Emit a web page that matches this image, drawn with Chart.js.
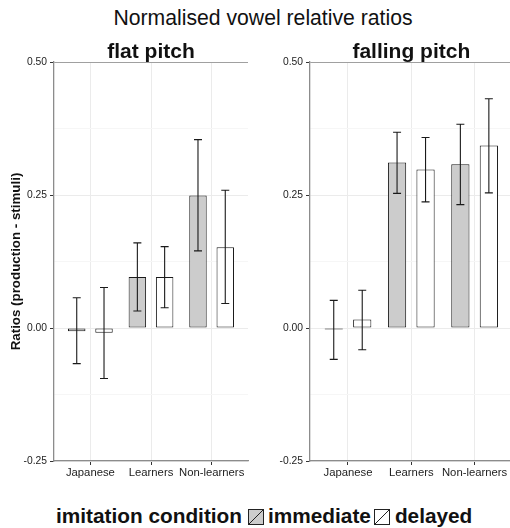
<!DOCTYPE html>
<html>
<head>
<meta charset="utf-8">
<script src="https://cdn.jsdelivr.net/npm/chart.js@4/dist/chart.umd.min.js"></script>
<style>
html,body{margin:0;padding:0;width:510px;height:528px;overflow:hidden;background:#fff;font-family:"Liberation Sans",Arial,sans-serif;}
#mainTitle{position:absolute;left:0;top:7px;width:526px;text-align:center;font-size:21.2px;line-height:21px;color:#111;white-space:nowrap;}
#c1{position:absolute;left:0;top:30px;}
#c2{position:absolute;left:255px;top:30px;}
#legend{position:absolute;left:56px;top:503.6px;display:flex;align-items:flex-start;font-weight:bold;font-size:20.8px;line-height:24px;color:#111;white-space:nowrap;}
#legend .sw{margin-top:5.4px;width:16px;height:16px;display:block;}
</style>
</head>
<body>
<div id="mainTitle"></div>
<canvas id="c1" width="255" height="455"></canvas>
<canvas id="c2" width="260" height="455"></canvas>
<div id="legend"></div>
<script>
// ---- data ----
const chartTitle = 'Normalised vowel relative ratios';
const panelTitles = ['flat pitch', 'falling pitch'];
const categories = ['Japanese', 'Learners', 'Non-learners'];
const seriesNames = ['immediate', 'delayed'];
const legendTitle = 'imitation condition';
const yAxisTitle = 'Ratios (production - stimuli)';
const yTickValues = [-0.25, 0, 0.25, 0.5];

const flatImmediate     = [-0.006, 0.096, 0.249];
const flatImmediateLow  = [-0.067, 0.032, 0.145];
const flatImmediateHigh = [ 0.057, 0.160, 0.354];
const flatDelayed       = [-0.009, 0.096, 0.152];
const flatDelayedLow    = [-0.095, 0.038, 0.046];
const flatDelayedHigh   = [ 0.076, 0.153, 0.259];

const fallingImmediate     = [-0.003, 0.311, 0.308];
const fallingImmediateLow  = [-0.059, 0.253, 0.232];
const fallingImmediateHigh = [ 0.052, 0.368, 0.383];
const fallingDelayed       = [ 0.016, 0.298, 0.343];
const fallingDelayedLow    = [-0.041, 0.237, 0.254];
const fallingDelayedHigh   = [ 0.071, 0.358, 0.431];

// ---- styles ----
const seriesColors = ['#cccccc', '#ffffff'];
const outline = '#1a1a1a';
const FONT = '"Liberation Sans", Arial, sans-serif';

document.getElementById('mainTitle').textContent = chartTitle;

// legend
(function(){
  const lg = document.getElementById('legend');
  const t = document.createElement('span'); t.textContent = legendTitle; lg.appendChild(t);
  seriesNames.forEach((n, i) => {
    const ns = 'http://www.w3.org/2000/svg';
    const svg = document.createElementNS(ns, 'svg');
    svg.setAttribute('class', 'sw'); svg.setAttribute('width', '16'); svg.setAttribute('height', '16');
    svg.style.marginLeft = (i === 0 ? 6 : 3) + 'px';
    svg.style.marginRight = (i === 0 ? 4 : 5) + 'px';
    const r = document.createElementNS(ns, 'rect');
    r.setAttribute('x', '0.5'); r.setAttribute('y', '0.5'); r.setAttribute('width', '15'); r.setAttribute('height', '15');
    r.setAttribute('fill', seriesColors[i]); r.setAttribute('stroke', '#222'); r.setAttribute('stroke-width', '1');
    const l = document.createElementNS(ns, 'line');
    l.setAttribute('x1', '0.5'); l.setAttribute('y1', '15.5'); l.setAttribute('x2', '15.5'); l.setAttribute('y2', '0.5');
    l.setAttribute('stroke', '#222'); l.setAttribute('stroke-width', '1');
    svg.appendChild(r); svg.appendChild(l); lg.appendChild(svg);
    const s = document.createElement('span'); s.textContent = n; lg.appendChild(s);
  });
})();

// y ticks: major ticks plus minor midpoints
const yAllTicks = [];
yTickValues.forEach((v, i) => {
  yAllTicks.push(v);
  if (i < yTickValues.length - 1) yAllTicks.push((v + yTickValues[i + 1]) / 2);
});
const isMajor = v => yTickValues.some(m => Math.abs(m - v) < 1e-9);

const errorBars = {
  id: 'errorBars',
  afterDatasetsDraw(chart) {
    const ctx = chart.ctx, ys = chart.scales.y;
    chart.data.datasets.forEach((ds, di) => {
      const meta = chart.getDatasetMeta(di);
      meta.data.forEach((bar, i) => {
        const yl = ys.getPixelForValue(ds.errLow[i]);
        const yh = ys.getPixelForValue(ds.errHigh[i]);
        const x = bar.x;
        ctx.save();
        ctx.strokeStyle = '#1a1a1a';
        ctx.lineWidth = 1.1;
        ctx.beginPath();
        ctx.moveTo(x, yl); ctx.lineTo(x, yh);
        ctx.moveTo(x - 4, yl); ctx.lineTo(x + 4, yl);
        ctx.moveTo(x - 4, yh); ctx.lineTo(x + 4, yh);
        ctx.stroke();
        ctx.restore();
      });
    });
  }
};

const panelTitle = {
  id: 'panelTitle',
  afterDraw(chart, args, opts) {
    const ctx = chart.ctx, a = chart.chartArea;
    ctx.save();
    ctx.font = 'bold 21px ' + FONT;
    ctx.fillStyle = '#111';
    ctx.textAlign = 'center';
    ctx.textBaseline = 'alphabetic';
    ctx.fillText(opts.text, (a.left + a.right) / 2, opts.baseline);
    ctx.restore();
  }
};

function makePanel(canvasId, title, imm, immLo, immHi, del, delLo, delHi, yWidth, padRight, showYTitle) {
  const vals = [imm, del], los = [immLo, delLo], his = [immHi, delHi];
  return new Chart(document.getElementById(canvasId), {
    type: 'bar',
    data: {
      datasets: seriesNames.map((n, s) => ({
        label: n,
        data: categories.map((c, i) => ({ x: i + 1, y: vals[s][i] })),
        errLow: los[s],
        errHigh: his[s],
        backgroundColor: seriesColors[s],
        borderColor: outline,
        borderWidth: 1,
        borderSkipped: false,
        categoryPercentage: 0.9,
        barPercentage: 0.64
      }))
    },
    options: {
      responsive: false,
      animation: false,
      devicePixelRatio: 1,
      layout: { padding: { top: 32, right: padRight, bottom: 0, left: 0 } },
      plugins: {
        legend: { display: false },
        tooltip: { enabled: false },
        title: { display: false },
        panelTitle: { text: title, baseline: 28.3 }
      },
      scales: {
        x: {
          type: 'linear',
          offset: false,
          min: 0.4, max: 3.6,
          afterBuildTicks: s => { s.ticks = categories.map((c, i) => ({ value: i + 1 })); },
          afterFit: s => { s.height = 24; },
          ticks: {
            autoSkip: false, maxRotation: 0, padding: 1,
            color: '#222',
            font: { family: FONT, size: 11.3 },
            callback: v => categories[Math.round(v) - 1]
          },
          grid: { offset: false, color: '#ebebeb', lineWidth: 1, tickColor: '#333', tickLength: 4, drawTicks: true },
          border: { display: true, color: '#8c8c8c', width: 1.3 }
        },
        y: {
          type: 'linear',
          min: yTickValues[0], max: yTickValues[yTickValues.length - 1],
          afterBuildTicks: s => { s.ticks = yAllTicks.map(v => ({ value: v })); },
          afterFit: s => { s.width = yWidth; },
          ticks: {
            autoSkip: false, padding: 3,
            color: '#222',
            font: { family: FONT, size: 10.3 },
            callback: v => isMajor(v) ? v.toFixed(2) : ''
          },
          grid: {
            lineWidth: 1,
            tickLength: 4,
            color: ctx => {
              const v = ctx.tick ? ctx.tick.value : 0;
              if (Math.abs(v - yTickValues[yTickValues.length - 1]) < 1e-9) return '#a0a0a0';
              return isMajor(v) ? '#ebebeb' : '#f6f6f6';
            },
            tickColor: ctx => (ctx.tick && isMajor(ctx.tick.value)) ? '#333' : 'rgba(0,0,0,0)'
          },
          border: { display: true, color: '#8c8c8c', width: 1.3 },
          title: {
            display: showYTitle,
            text: yAxisTitle,
            color: '#111',
            font: { family: FONT, size: 13.33, weight: 'bold' },
            padding: { top: 8, bottom: 0 }
          }
        }
      }
    },
    plugins: [errorBars, panelTitle]
  });
}

makePanel('c1', panelTitles[0], flatImmediate, flatImmediateLow, flatImmediateHigh,
          flatDelayed, flatDelayedLow, flatDelayedHigh, 54, 7, true);
makePanel('c2', panelTitles[1], fallingImmediate, fallingImmediateLow, fallingImmediateHigh,
          fallingDelayed, fallingDelayedLow, fallingDelayedHigh, 55, 2.4, false);
</script>
</body>
</html>
